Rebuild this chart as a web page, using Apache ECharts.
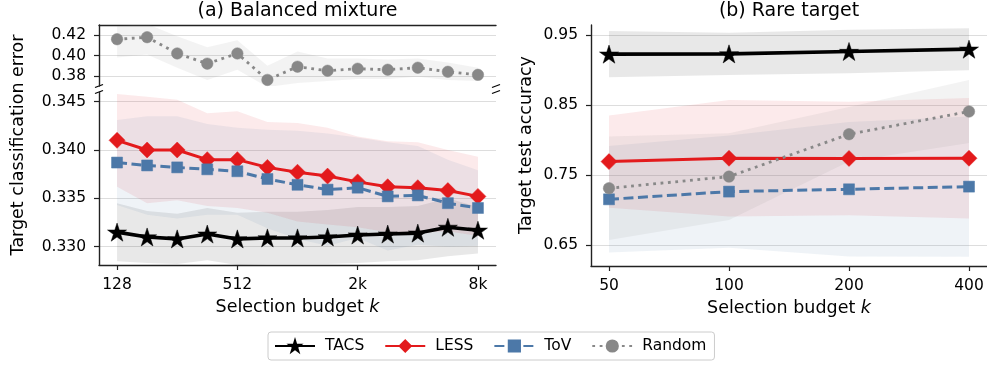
<!DOCTYPE html>
<html>
<head>
<meta charset="utf-8">
<script src="https://cdn.jsdelivr.net/npm/echarts@6.0.0/dist/echarts.min.js"></script>
<style>
  html, body { margin: 0; padding: 0; background: #ffffff; }
  #chart { width: 987px; height: 367px; }
</style>
</head>
<body>
<div id="chart"></div>
<script>
// ---- Panel (a): balanced mixture, target classification error ----
const budgetsA = [128, 181, 256, 362, 512, 724, 1024, 1448, 2048, 2896, 4096, 5793, 8192];
const tickBudgetsA = [128, 512, 2048, 8192];
const tickLabelsA = ['128', '512', '2k', '8k'];

const tacsA    = [0.3315, 0.3310, 0.3308, 0.3313, 0.3308, 0.3309, 0.3309, 0.3310, 0.3312, 0.3313, 0.3314, 0.3320, 0.3317];
const tacsStdA = [0.0030, 0.0027, 0.0026, 0.0027, 0.0027, 0.0027, 0.0027, 0.0028, 0.0029, 0.0028, 0.0028, 0.0030, 0.0024];
const lessA    = [0.3410, 0.3400, 0.3400, 0.3390, 0.3390, 0.3382, 0.3377, 0.3373, 0.3367, 0.3362, 0.3361, 0.3358, 0.3352];
const lessStdA = [0.0048, 0.0055, 0.0052, 0.0048, 0.0050, 0.0047, 0.0051, 0.0050, 0.0047, 0.0047, 0.0047, 0.0042, 0.0041];
const tovA     = [0.3387, 0.3384, 0.3382, 0.3380, 0.3378, 0.3370, 0.3364, 0.3359, 0.3361, 0.3352, 0.3353, 0.3345, 0.3340];
const tovStdA  = [0.0044, 0.0051, 0.0053, 0.0047, 0.0045, 0.0051, 0.0056, 0.0058, 0.0052, 0.0056, 0.0051, 0.0045, 0.0039];
const randomA   = [0.416, 0.418, 0.402, 0.392, 0.402, 0.376, 0.389, 0.385, 0.387, 0.386, 0.388, 0.384, 0.381];
const randomLoA = [0.398, 0.401, 0.388, 0.376, 0.386, 0.369, 0.373, 0.375, 0.377, 0.377, 0.379, 0.376, 0.375];
const randomHiA = [0.429, 0.431, 0.419, 0.408, 0.415, 0.390, 0.404, 0.397, 0.397, 0.396, 0.397, 0.393, 0.388];

const yTicksTopA    = [0.38, 0.40, 0.42];
const yTicksBottomA = [0.330, 0.335, 0.340, 0.345];

// ---- Panel (b): rare target, target test accuracy ----
const budgetsB = [50, 100, 200, 400];
const tickLabelsB = ['50', '100', '200', '400'];

const tacsB      = [0.9224, 0.9228, 0.9262, 0.9295];
const tacsStdB   = [0.033, 0.030, 0.031, 0.030];
const lessB      = [0.7690, 0.7738, 0.7735, 0.7738];
const lessStdB   = [0.066, 0.083, 0.081, 0.086];
const tovB       = [0.7152, 0.7262, 0.7295, 0.7333];
const tovStdB    = [0.076, 0.080, 0.096, 0.100];
const randomB    = [0.7310, 0.7476, 0.8081, 0.8405];
const randomStdB = [0.074, 0.062, 0.039, 0.045];

const yTicksB = [0.65, 0.75, 0.85, 0.95];

// ---- styling ----
const FONT = 'DejaVu Sans';
const C_TACS = '#000000';
const C_LESS = '#e31a1c';
const C_TOV = '#4c78a8';
const C_RANDOM = '#888888';
const STAR = 'path://M0,-10 L2.245,-3.09 L9.511,-3.09 L3.633,1.18 L5.878,8.09 L0,3.82 L-5.878,8.09 L-3.633,1.18 L-9.511,-3.09 L-2.245,-3.09 Z';

const lg = Math.log2;
const pts = (xs, ys) => xs.map((x, i) => [lg(x), ys[i]]);
const labelFor = (values, labels) => v => {
  const i = values.findIndex(p => Math.abs(p - v) < 1e-6);
  return i >= 0 ? labels[i] : '';
};
const lower = (m, s) => m.map((v, i) => v - s[i]);
const upper = (m, s) => m.map((v, i) => v + s[i]);

// shaded spread band: one polygon through the upper and lower edges
function band(xi, yi, xs, lo, hi, color, opacity) {
  return {
    type: 'custom', xAxisIndex: xi, yAxisIndex: yi,
    silent: true, z: 1, clip: true, animation: false,
    data: xs.map((x, i) => [lg(x), lo[i], hi[i]]),
    encode: { x: 0, y: [1, 2] },
    renderItem: (params, api) => {
      if (params.dataIndex !== 0) return null;
      const top = xs.map((x, i) => api.coord([lg(x), hi[i]]));
      const bot = xs.map((x, i) => api.coord([lg(x), lo[i]])).reverse();
      const cs = params.coordSys;
      return {
        type: 'polygon',
        shape: { points: top.concat(bot) },
        style: { fill: color, opacity: opacity },
        clipPath: { type: 'rect', shape: { x: cs.x, y: cs.y, width: cs.width, height: cs.height } }
      };
    }
  };
}

function lineSeries(name, xi, yi, xs, ys, style) {
  return {
    name: name, type: 'line', xAxisIndex: xi, yAxisIndex: yi,
    data: pts(xs, ys), z: 3, animation: false,
    symbol: style.symbol, symbolSize: style.size, symbolKeepAspect: true,
    itemStyle: { color: style.color, borderColor: style.color, borderWidth: 0.5 },
    lineStyle: { color: style.color, width: style.width, type: style.type, cap: 'butt' }
  };
}

const S = {
  TACS:   { color: C_TACS,   symbol: STAR,      size: 19,   width: 3.6, type: 'solid' },
  LESS:   { color: C_LESS,   symbol: 'diamond', size: 16,   width: 3,   type: 'solid' },
  ToV:    { color: C_TOV,    symbol: 'rect',    size: 11,   width: 3,   type: [10, 4.5] },
  Random: { color: C_RANDOM, symbol: 'circle',  size: 11.5, width: 2.8, type: [2.8, 4.6] }
};

const axisText = { color: '#000', fontSize: 15.5, fontFamily: FONT };
const spine = { show: true, lineStyle: { color: '#222', width: 1.4 } };
const grid = { show: true, lineStyle: { color: '#dddddd', width: 1.2 } };

function valueY(gi, min, max, ticks, digits) {
  return {
    gridIndex: gi, type: 'value', min: min, max: max,
    axisLine: spine,
    axisTick: { show: true, length: 5, lineStyle: { color: '#222', width: 1.2 }, customValues: ticks },
    axisLabel: Object.assign({ margin: 13, customValues: ticks, formatter: v => v.toFixed(digits) }, axisText),
    splitLine: grid
  };
}

const padA = 0.05 * (lg(8192) - lg(128));
const padB = 0.05 * (lg(400) - lg(50));
const tickPosA = tickBudgetsA.map(lg);
const tickPosB = budgetsB.map(lg);
const xName = 'Selection budget {i|k}';
const xNameStyle = {
  color: '#000', fontSize: 17.5, fontFamily: FONT,
  rich: { i: { fontStyle: 'italic', fontSize: 17.5, fontFamily: FONT, color: '#000' } }
};
const textEl = (x, y, text, size, rot) => ({
  type: 'text', x: x, y: y, rotation: rot || 0, silent: true,
  style: { text: text, fontSize: size, fontFamily: FONT, fill: '#000', align: 'center', verticalAlign: 'middle' }
});
const breakMark = (x, y) => ({
  type: 'line', silent: true,
  shape: { x1: x - 4, y1: y + 1.5, x2: x + 4, y2: y - 1.5 },
  style: { stroke: '#000', lineWidth: 1.3 }
});

const option = {
  backgroundColor: '#ffffff',
  animation: false,
  textStyle: { fontFamily: FONT },
  grid: [
    { left: 99, top: 25, width: 397, height: 61, outerBoundsMode: 'none' },
    { left: 99, top: 92, width: 397, height: 173, outerBoundsMode: 'none' },
    { left: 591, top: 25, width: 396, height: 241, outerBoundsMode: 'none' }
  ],
  xAxis: [
    {
      gridIndex: 0, type: 'value', position: 'top',
      min: lg(128) - padA, max: lg(8192) + padA,
      axisLine: spine, axisTick: { show: false }, axisLabel: { show: false }, splitLine: { show: false }
    },
    {
      gridIndex: 1, type: 'value',
      min: lg(128) - padA, max: lg(8192) + padA,
      axisLine: spine,
      axisTick: { show: true, length: 5, lineStyle: { color: '#222', width: 1.2 }, customValues: tickPosA },
      axisLabel: Object.assign({ margin: 12, customValues: tickPosA, formatter: labelFor(tickPosA, tickLabelsA) }, axisText),
      splitLine: { show: false },
      name: xName, nameLocation: 'middle', nameGap: 33, nameTextStyle: xNameStyle
    },
    {
      gridIndex: 2, type: 'value',
      min: lg(50) - padB, max: lg(400) + padB,
      axisLine: spine,
      axisTick: { show: true, length: 5, lineStyle: { color: '#222', width: 1.2 }, customValues: tickPosB },
      axisLabel: Object.assign({ margin: 12, customValues: tickPosB, formatter: labelFor(tickPosB, tickLabelsB) }, axisText),
      splitLine: { show: false },
      name: xName, nameLocation: 'middle', nameGap: 33, nameTextStyle: xNameStyle
    }
  ],
  yAxis: [
    valueY(0, 0.37, 0.43, yTicksTopA, 2),
    valueY(1, 0.3281, 0.3460, yTicksBottomA, 3),
    valueY(2, 0.62, 0.964, yTicksB, 2)
  ],
  legend: {
    data: ['TACS', 'LESS', 'ToV', 'Random'],
    left: 268, top: 332,
    padding: [6, 8, 6, 6],
    itemWidth: 40, itemHeight: 14, itemGap: 20,
    borderColor: '#cccccc', borderWidth: 1, borderRadius: 3,
    textStyle: { color: '#000', fontSize: 15.5, fontFamily: FONT, padding: [0, 0, 0, 5] },
    selectedMode: false
  },
  graphic: [
    textEl(297.5, 11, '(a) Balanced mixture', 19),
    textEl(789, 11, '(b) Rare target', 19),
    textEl(18, 145, 'Target classification error', 17.5, Math.PI / 2),
    textEl(526, 145, 'Target test accuracy', 17.5, Math.PI / 2),
    // broken-axis marks between the two parts of panel (a)
    breakMark(99, 86), breakMark(99, 92),
    breakMark(496, 86), breakMark(496, 92)
  ],
  series: [
    // panel (a), upper part: random baseline spread
    band(0, 0, budgetsA, randomLoA, randomHiA, C_RANDOM, 0.1),
    // panel (a), lower part
    band(1, 1, budgetsA, lower(tacsA, tacsStdA), upper(tacsA, tacsStdA), '#000000', 0.09),
    band(1, 1, budgetsA, lower(lessA, lessStdA), upper(lessA, lessStdA), C_LESS, 0.09),
    band(1, 1, budgetsA, lower(tovA, tovStdA), upper(tovA, tovStdA), C_TOV, 0.09),
    // panel (b)
    band(2, 2, budgetsB, lower(tacsB, tacsStdB), upper(tacsB, tacsStdB), '#000000', 0.09),
    band(2, 2, budgetsB, lower(lessB, lessStdB), upper(lessB, lessStdB), C_LESS, 0.09),
    band(2, 2, budgetsB, lower(tovB, tovStdB), upper(tovB, tovStdB), C_TOV, 0.09),
    band(2, 2, budgetsB, lower(randomB, randomStdB), upper(randomB, randomStdB), C_RANDOM, 0.1),
    // mean curves
    lineSeries('TACS', 1, 1, budgetsA, tacsA, S.TACS),
    lineSeries('LESS', 1, 1, budgetsA, lessA, S.LESS),
    lineSeries('ToV', 1, 1, budgetsA, tovA, S.ToV),
    lineSeries('Random', 0, 0, budgetsA, randomA, S.Random),
    lineSeries('TACS', 2, 2, budgetsB, tacsB, S.TACS),
    lineSeries('LESS', 2, 2, budgetsB, lessB, S.LESS),
    lineSeries('ToV', 2, 2, budgetsB, tovB, S.ToV),
    lineSeries('Random', 2, 2, budgetsB, randomB, S.Random)
  ]
};

const chart = echarts.init(document.getElementById('chart'), null, { renderer: 'canvas' });
chart.setOption(option);
</script>
</body>
</html>
